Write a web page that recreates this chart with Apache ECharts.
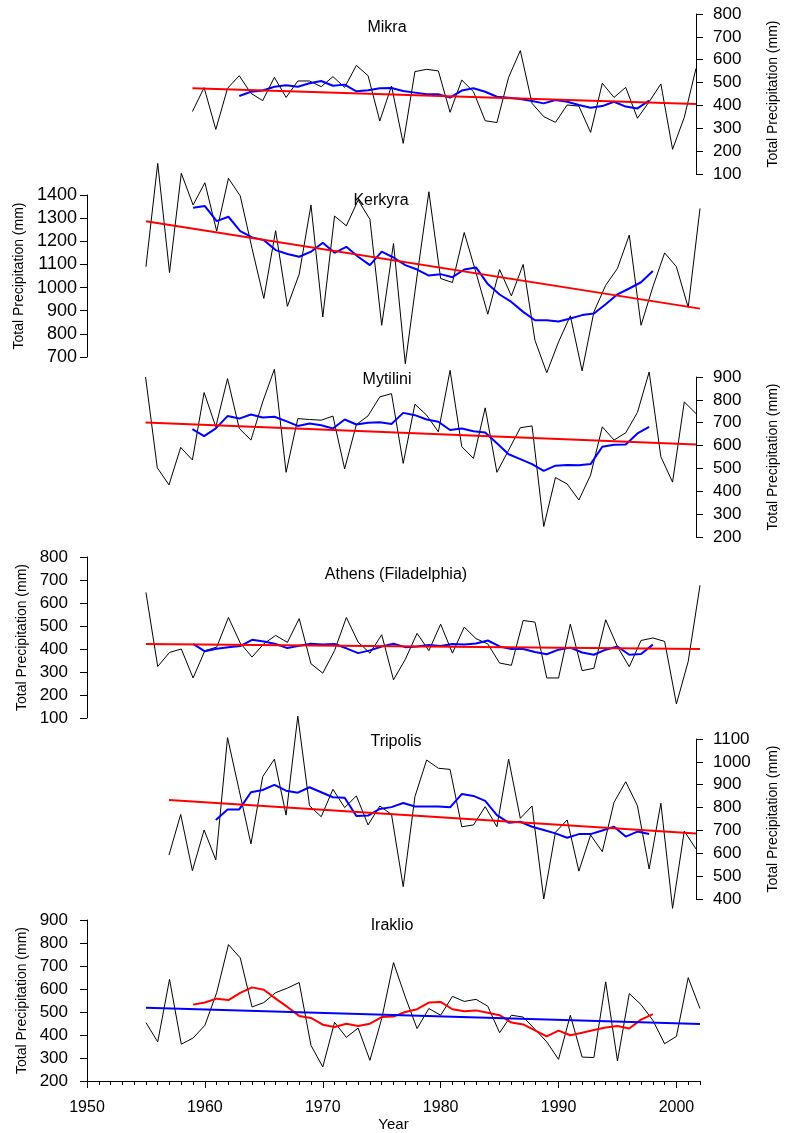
<!DOCTYPE html>
<html>
<head>
<meta charset="utf-8">
<script src="https://cdn.jsdelivr.net/npm/echarts@6/dist/echarts.min.js"></script>
<style>
  html, body { margin: 0; padding: 0; background: #fff; }
  #chart { width: 788px; height: 1133px; }
</style>
</head>
<body>
<div id="chart"></div>
<script>
// x axis
var decadeTicks = [1950, 1960, 1970, 1980, 1990, 2000];
var yearFirst = 1950, yearLast = 2002;

// annual totals (first year noted next to each)
var mikraStart = 1959;
var mikraRain = [373, 478, 295, 475, 530, 453, 421, 523, 435, 507, 507, 482, 526, 479, 575, 530, 332, 485, 234, 548, 558, 551,
  370, 511, 460, 333, 325, 523, 640, 409, 351, 326, 402, 397, 282, 497, 435, 479, 344, 416, 494, 208, 348, 562];
var mikraSmoothStart = 1963;
var mikraSmooth = [441, 460, 465, 482, 488, 482, 497, 507, 486, 491, 462, 466, 475, 476, 463, 456, 449, 449,
  434, 465, 475, 460, 438, 434, 428, 419, 409, 424, 416, 402, 390, 397, 416, 395, 387, 421];
var mikraTrend = [[1959, 475], [2002, 406]];

var kerkyraStart = 1955;
var kerkyraRain = [1090, 1537, 1065, 1494, 1357, 1453, 1244, 1472, 1396, 1169, 953, 1246, 919, 1058, 1357, 873, 1309, 1267,
  1378, 1295, 837, 1191, 671, 1050, 1414, 1039, 1022, 1238, 1064, 885, 1078, 964, 1100, 772, 632, 765, 878, 640, 895,
  1010, 1083, 1227, 837, 1003, 1150, 1090, 914, 1342];
var kerkyraSmoothStart = 1959;
var kerkyraSmooth = [1345, 1352, 1287, 1306, 1244, 1217, 1205, 1162, 1145, 1133, 1155, 1194, 1150, 1176, 1133, 1097, 1155,
  1130, 1097, 1078, 1052, 1058, 1045, 1078, 1087, 1015, 970, 938, 895, 859, 859, 853, 866, 881, 888, 928, 971, 996, 1023, 1072];
var kerkyraTrend = [[1955, 1287], [2002, 909]];

var mytiliniStart = 1955;
var mytiliniRain = [900, 503, 428, 592, 537, 832, 682, 893, 675, 624, 791, 934, 483, 718, 714, 711, 729, 498, 692, 730, 813,
  827, 522, 781, 733, 660, 929, 595, 544, 765, 483, 580, 678, 686, 246, 460, 432, 362, 471, 682, 624, 656, 745, 922, 551,
  440, 791, 740];
var mytiliniSmoothStart = 1959;
var mytiliniSmooth = [672, 641, 675, 729, 718, 736, 723, 726, 707, 686, 697, 689, 675, 714, 692, 700, 702, 694, 743, 733,
  714, 704, 668, 675, 663, 657, 610, 562, 541, 519, 489, 512, 515, 514, 519, 595, 604, 605, 653, 682];
var mytiliniTrend = [[1955, 701], [2002, 605]];

var athensStart = 1955;
var athensRain = [646, 324, 385, 400, 274, 393, 408, 537, 426, 365, 423, 459, 429, 532, 336, 295, 393, 537, 430, 382, 462,
  266, 355, 468, 393, 508, 382, 495, 445, 422, 339, 329, 524, 517, 274, 274, 508, 306, 316, 527, 410, 323, 437, 448, 433,
  161, 346, 677];
var athensSmoothStart = 1959;
var athensSmooth = [422, 390, 401, 408, 413, 440, 433, 422, 404, 414, 423, 420, 422, 403, 382, 394, 411, 423, 408, 411,
  417, 413, 422, 420, 424, 437, 411, 400, 400, 387, 377, 397, 406, 385, 375, 397, 411, 375, 378, 419];
var athensTrend = [[1955, 422], [2002, 400]];

var tripolisStart = 1957;
var tripolisRain = [592, 770, 524, 702, 571, 1106, 874, 641, 935, 1012, 767, 1200, 808, 760, 880, 800, 851, 724, 807, 770,
  454, 848, 1008, 972, 967, 716, 724, 804, 716, 1012, 753, 807, 400, 692, 746, 522, 680, 607, 823, 913, 808, 531, 819,
  359, 697, 619];
var tripolisSmoothStart = 1961;
var tripolisSmooth = [746, 792, 792, 867, 877, 899, 874, 865, 889, 867, 845, 843, 763, 765, 794, 802, 820, 805, 805, 805,
  801, 859, 851, 829, 767, 734, 738, 716, 702, 687, 668, 684, 684, 700, 716, 673, 695, 684];
var tripolisTrend = [[1957, 833], [2002, 687]];

var iraklioStart = 1955;
var iraklioRain = [454, 370, 642, 360, 387, 442, 584, 793, 735, 522, 541, 584, 604, 628, 355, 261, 455, 390, 430, 290, 471,
  715, 565, 428, 515, 486, 568, 546, 555, 525, 410, 486, 478, 425, 370, 294, 486, 304, 302, 631, 287, 580, 532, 464, 362,
  394, 649, 515];
var iraklioSmoothStart = 1959;
var iraklioSmooth = [532, 541, 558, 552, 583, 607, 597, 558, 522, 483, 474, 445, 435, 449, 439, 449, 478, 480, 500, 512,
  541, 544, 512, 503, 507, 497, 486, 454, 446, 420, 394, 419, 399, 410, 422, 433, 439, 428, 467, 491];
var iraklioTrend = [[1955, 519], [2002, 448]];

var stations = ['Mikra', 'Kerkyra', 'Mytilini', 'Athens (Filadelphia)', 'Tripolis', 'Iraklio'];
var yRanges = [[100, 800], [700, 1400], [200, 900], [100, 800], [400, 1100], [200, 900]];

function pairs(start, values) {
  return values.map(function (v, i) { return [start + i, v]; });
}

var stationData = [
  [pairs(mikraStart, mikraRain), pairs(mikraSmoothStart, mikraSmooth), mikraTrend],
  [pairs(kerkyraStart, kerkyraRain), pairs(kerkyraSmoothStart, kerkyraSmooth), kerkyraTrend],
  [pairs(mytiliniStart, mytiliniRain), pairs(mytiliniSmoothStart, mytiliniSmooth), mytiliniTrend],
  [pairs(athensStart, athensRain), pairs(athensSmoothStart, athensSmooth), athensTrend],
  [pairs(tripolisStart, tripolisRain), pairs(tripolisSmoothStart, tripolisSmooth), tripolisTrend],
  [pairs(iraklioStart, iraklioRain), pairs(iraklioSmoothStart, iraklioSmooth), iraklioTrend]
];

// panel boxes in px (top/height of the tick range), axis side, label size/margin, title spot
var layout = [
  { top: 14, height: 160, side: 'right', size: 17, margin: 17, tx: 387, ty: 28 },
  { top: 195, height: 162, side: 'left', size: 18, margin: 10, tx: 381, ty: 201 },
  { top: 377, height: 160, side: 'right', size: 17, margin: 17, tx: 387, ty: 380 },
  { top: 557, height: 161, side: 'left', size: 17, margin: 19, tx: 396, ty: 575 },
  { top: 739, height: 160, side: 'right', size: 17, margin: 17, tx: 396, ty: 742 },
  { top: 920, height: 161, side: 'left', size: 17, margin: 19, tx: 392, ty: 926 }
];

var font = 'Liberation Sans, Arial, sans-serif';
var black = '#000';
var plain = function (v) { return String(v); };   // no thousands separator

var grids = [], xAxes = [], yAxes = [], series = [], texts = [];

layout.forEach(function (p, i) {
  grids.push({ left: 87, right: 88, top: p.top, height: p.height });

  xAxes.push({
    gridIndex: i, type: 'value', min: yearFirst, max: yearLast,
    show: i === layout.length - 1, position: 'bottom', interval: 1,
    axisLine: { lineStyle: { color: black, width: 1 } },
    axisTick: { length: 4, lineStyle: { color: black } },
    axisLabel: { show: false },
    splitLine: { show: false }
  });

  yAxes.push({
    gridIndex: i, type: 'value', min: yRanges[i][0], max: yRanges[i][1], interval: 100,
    position: p.side,
    axisLine: { show: true, lineStyle: { color: black, width: 1 } },
    axisTick: { show: true, length: 7, lineStyle: { color: black } },
    axisLabel: { color: black, fontSize: p.size, fontFamily: font, margin: p.margin, formatter: plain },
    splitLine: { show: false },
    name: 'Total Precipitation (mm)', nameLocation: 'middle', nameRotate: 90,
    nameGap: p.side === 'left' ? 58 : 70,
    nameTextStyle: { color: black, fontSize: 14, fontFamily: font }
  });

  // Iraklio has the colours swapped: red smoothing, blue trend
  var smoothColor = i === 5 ? '#ff0000' : '#0000ff';
  var trendColor = i === 5 ? '#0000ff' : '#ff0000';
  var d = stationData[i];
  series.push({ type: 'line', xAxisIndex: i, yAxisIndex: i, data: d[0], symbol: 'none', clip: false, silent: true,
    lineStyle: { color: black, width: 1 } });
  series.push({ type: 'line', xAxisIndex: i, yAxisIndex: i, data: d[1], symbol: 'none', clip: false, silent: true,
    lineStyle: { color: smoothColor, width: 2 } });
  series.push({ type: 'line', xAxisIndex: i, yAxisIndex: i, data: d[2], symbol: 'none', clip: false, silent: true,
    lineStyle: { color: trendColor, width: 2 } });

  texts.push({ type: 'text', x: p.tx, y: p.ty, silent: true,
    style: { text: stations[i], fill: black, fontSize: 16, fontFamily: font, align: 'center', verticalAlign: 'middle' } });
});

// decade ticks and labels on top of the yearly ticks
xAxes.push({
  gridIndex: layout.length - 1, type: 'value', min: yearFirst, max: yearLast, position: 'bottom',
  axisLine: { lineStyle: { color: black, width: 1 } },
  axisTick: { length: 7, customValues: decadeTicks, lineStyle: { color: black } },
  axisLabel: { customValues: decadeTicks, color: black, fontSize: 16, fontFamily: font, margin: 19, formatter: plain },
  splitLine: { show: false },
  name: 'Year', nameLocation: 'middle', nameGap: 36,
  nameTextStyle: { color: black, fontSize: 15, fontFamily: font }
});

var chart = echarts.init(document.getElementById('chart'));
chart.setOption({
  animation: false,
  backgroundColor: '#fff',
  grid: grids,
  xAxis: xAxes,
  yAxis: yAxes,
  series: series,
  graphic: texts
});
</script>
</body>
</html>
